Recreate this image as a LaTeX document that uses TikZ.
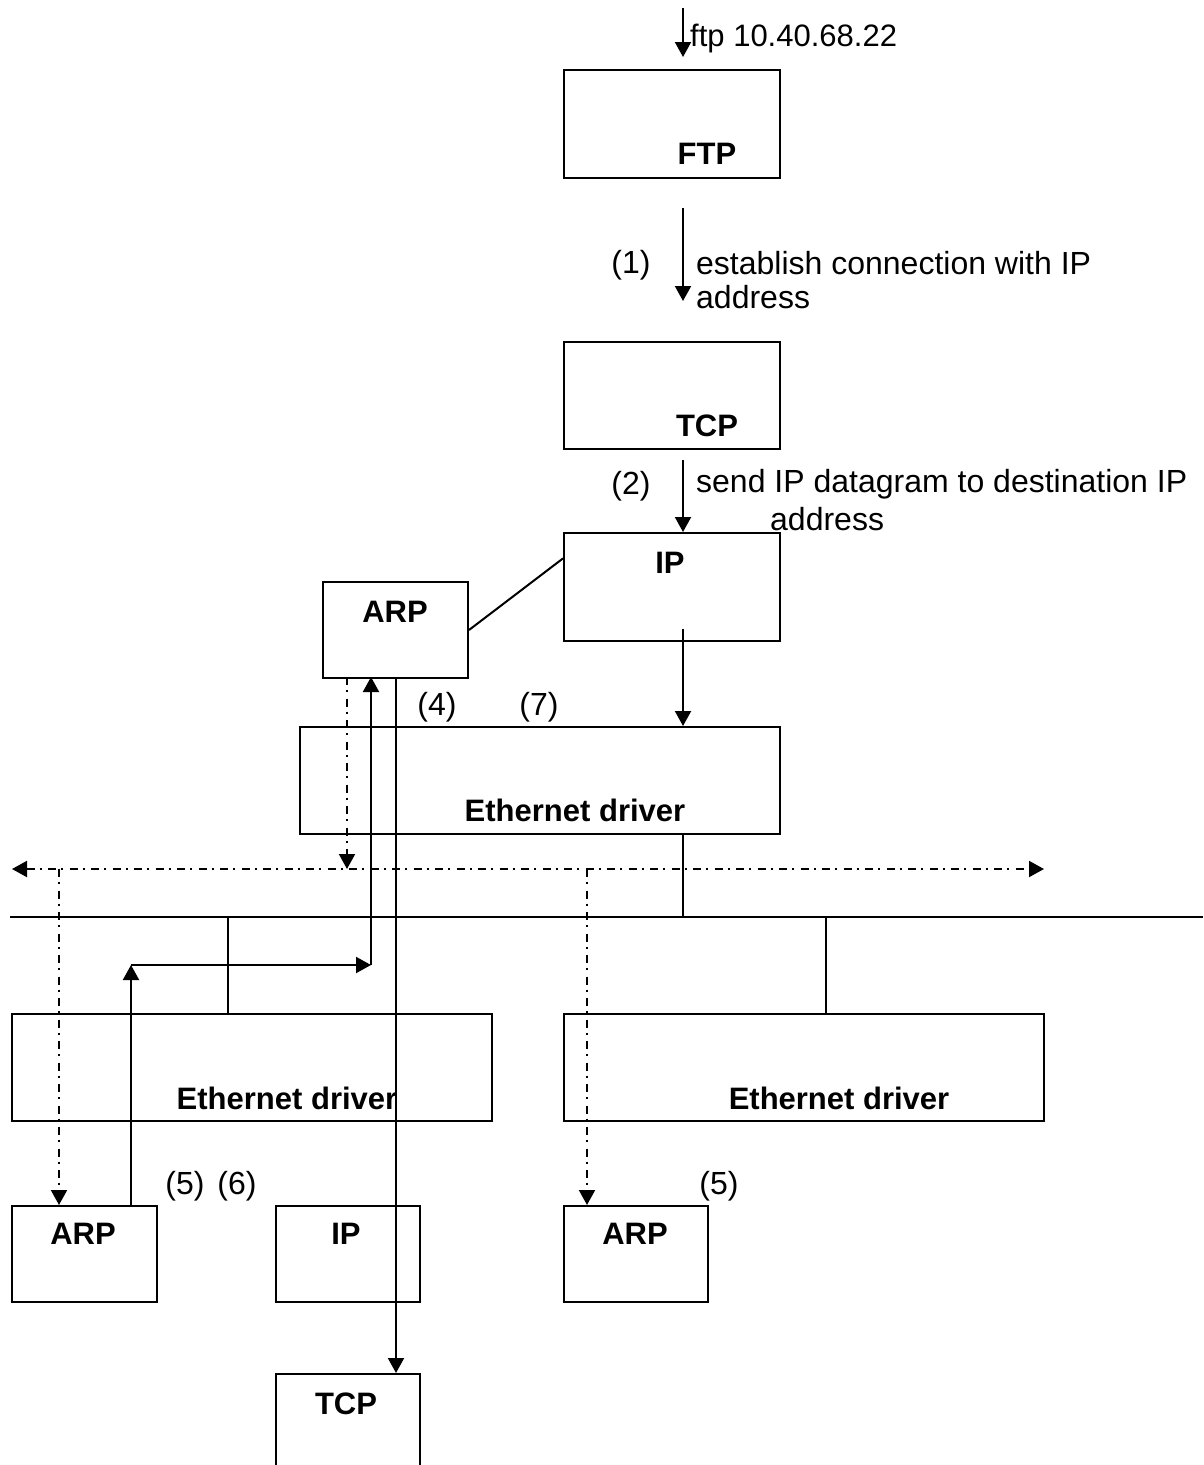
\documentclass[tikz,border=0pt]{standalone}
\usepackage{fontspec}
\setmainfont{Liberation Sans}
\usetikzlibrary{arrows.meta,calc}
\begin{document}
\begin{tikzpicture}[x=1pt,y=-1pt,
  box/.style={draw, line width=2pt, inner sep=0pt, anchor=north west},
  lbl/.style={font=\fontsize{31}{36}\selectfont\bfseries, inner sep=0pt},
  txt/.style={font=\fontsize{32}{37}\selectfont, inner sep=0pt},
  conn/.style={line width=2pt},
  arr/.style={line width=2pt, -{Triangle[length=15pt,width=16pt]}},
  dd/.style={line width=2pt, dash pattern=on 8pt off 5pt on 2pt off 6.5pt},
  ddarr/.style={dd, -{Triangle[length=15pt,width=16pt]}},
  ddboth/.style={dd, {Triangle[length=15pt,width=16pt]}-{Triangle[length=15pt,width=16pt]}},
]
\clip (0,0) rectangle (1203,1465);
\fill[white] (0,0) rectangle (1203,1465);

% boxes
\node[box, minimum width=216pt, minimum height=108pt] (ftp) at (563,69) {};
\node[box, minimum width=216pt, minimum height=107pt] (tcpA) at (563,341) {};
\node[box, minimum width=216pt, minimum height=108pt] (ipA) at (563,532) {};
\node[box, minimum width=145pt, minimum height=96pt] (arpA) at (322,581) {};
\node[box, minimum width=480pt, minimum height=107pt] (ethA) at (299,726) {};
\node[box, minimum width=480pt, minimum height=107pt] (ethB) at (11,1013) {};
\node[box, minimum width=480pt, minimum height=107pt] (ethC) at (563,1013) {};
\node[box, minimum width=145pt, minimum height=96pt] (arpB) at (11,1205) {};
\node[box, minimum width=144pt, minimum height=96pt] (ipB) at (275,1205) {};
\node[box, minimum width=144pt, minimum height=96pt] (arpC) at (563,1205) {};
\node[box, minimum width=144pt, minimum height=110pt] (tcpB) at (275,1373) {};

% box labels
\node[lbl] (ftpl) at (707,154) {FTP};
\node[lbl] (tcpAl) at (707,426) {TCP};
\node[lbl] (ipAl) at (670,563) {IP};
\node[lbl] (arpAl) at (395,612) {ARP};
\node[lbl] (ethAl) at (575,810) {Ethernet driver};
\node[lbl] (ethBl) at (287,1098) {Ethernet driver};
\node[lbl] (ethCl) at (839,1098) {Ethernet driver};
\node[lbl] (arpBl) at (83,1234) {ARP};
\node[lbl] (ipBl) at (346,1234) {IP};
\node[lbl] (arpCl) at (635,1234) {ARP};
\node[lbl] (tcpBl) at (346,1404) {TCP};

% texts
\node[txt, anchor=west, font=\fontsize{31}{36}\selectfont] (cmd) at (690,38) {ftp 10.40.68.22};
\node[txt] (n1) at (631,265) {(1)};
\node[txt, anchor=west] (t1a) at (696,263) {establish connection with IP};
\node[txt, anchor=west] (t1b) at (696,297) {address};
\node[txt] (n2) at (631,486) {(2)};
\node[txt, anchor=west] (t2a) at (696,484) {send IP datagram to destination IP};
\node[txt, anchor=west] (t2b) at (770,519) {address};
\node[txt] (n4) at (437,707) {(4)};
\node[txt] (n7) at (539,707) {(7)};
\node[txt] (n5a) at (185,1186) {(5)};
\node[txt] (n6) at (237,1186) {(6)};
\node[txt] (n5b) at (719,1186) {(5)};

% free coordinates
\coordinate (c0s) at (683,8);
\coordinate (c0e) at (683,57);
\coordinate (c1s) at (683,208);
\coordinate (c1e) at (683,301);
\coordinate (c2s) at (683,460);
\coordinate (bl) at (12,869);
\coordinate (br) at (1044,869);
\coordinate (busL) at (10,917);
\coordinate (busR) at (1203,917);
\coordinate (turnA) at (131,965);
\coordinate (turnB) at (371,965);

% connectors
\draw[arr] (c0s) -- (c0e);
\draw[arr] (c1s) -- (c1e);
\draw[arr] (c2s) -- (c2s |- ipA.north);
\draw[conn] (arpA.east) -- ($(ipA.north west)!0.24!(ipA.south west)$);
\draw[arr] (683,629) -- (683,726);

% bus
\draw[conn] (busL) -- (busR);
\draw[conn] (683,833) -- (683,917);
\draw[conn] (228,917) -- (228,1013);
\draw[conn] (826,917) -- (826,1013);

% broadcast
\draw[ddboth] (bl) -- (br);
\draw[ddarr] (347,677) -- (347,869);
\draw[ddarr] (59,869) -- (59,1205);
\draw[ddarr] (587,869) -- (587,1205);

% reply path
\draw[arr] (131,1205) -- (turnA);
\draw[arr] (turnA) -- (turnB);
\draw[arr] (turnB) -- (371,677);

% IP datagram path
\draw[arr] (396,677) -- (396,1373);
\end{tikzpicture}
\end{document}
